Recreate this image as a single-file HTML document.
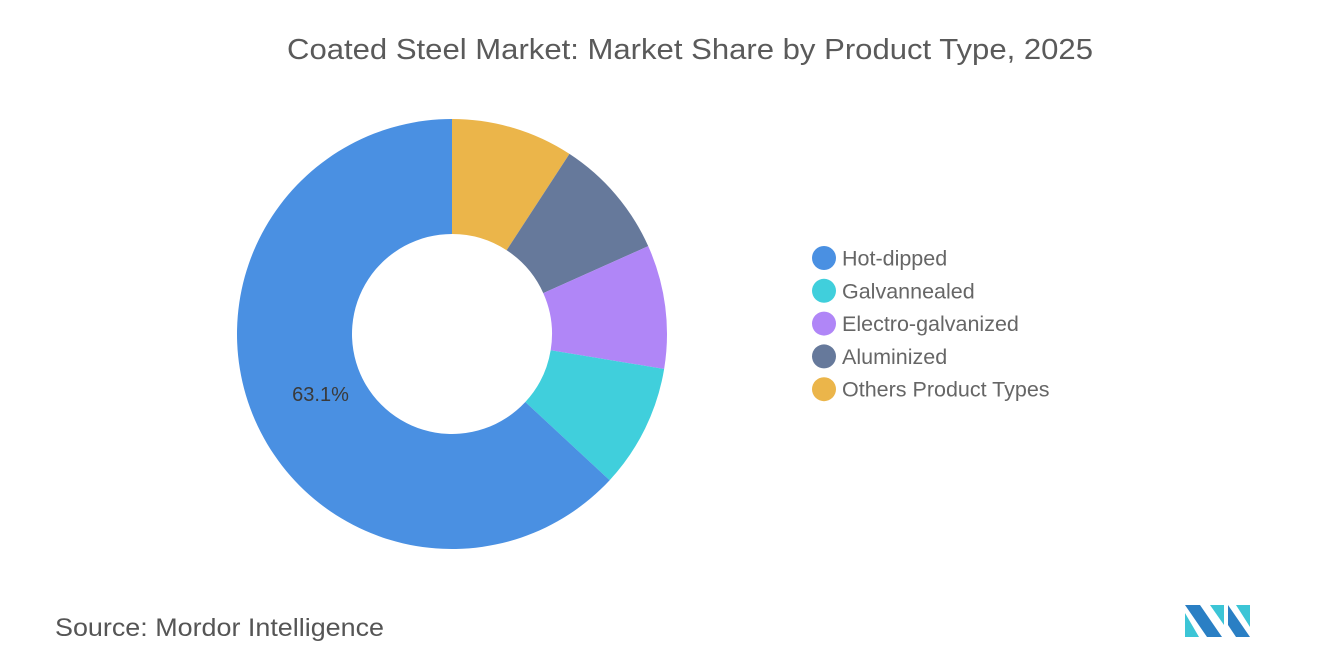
<!DOCTYPE html>
<html><head><meta charset="utf-8"><style>
body{margin:0;background:#fff;font-family:"Liberation Sans",sans-serif}
</style></head><body>
<svg width="1320" height="665" viewBox="0 0 1320 665">
<text x="287" y="59" font-size="29" fill="#5a5a5a" textLength="806" lengthAdjust="spacingAndGlyphs">Coated Steel Market: Market Share by Product Type, 2025</text>
<g id="donut"></g>
<g id="legend"></g>
<text x="55" y="636" font-size="25" fill="#555" textLength="329" lengthAdjust="spacingAndGlyphs">Source:  Mordor Intelligence</text>
<g>
<polygon points="1185,605 1200,605 1222,637 1207,637" fill="#2a7fc4"/>
<polygon points="1185,613 1199,637 1185,637" fill="#3cc5d6"/>
<polygon points="1210,605 1224,605 1224,625" fill="#3cc5d6"/>
<polygon points="1228,605 1250,637 1236,637 1228,625" fill="#2a7fc4"/>
<polygon points="1236,605 1250,605 1250,627" fill="#3cc5d6"/>
</g>
</svg>
<script>
const categories=["Hot-dipped","Galvannealed","Electro-galvanized","Aluminized","Others Product Types"];
const values=[63.1,9.3,9.3,9.1,9.2];
const colors=["#4a90e2","#40cfdc","#b086f7","#66799b","#ebb54a"];
const NS="http://www.w3.org/2000/svg";
const cx=452,cy=334,R=215,r=100;
const total=values.reduce((a,b)=>a+b,0);
const donut=document.getElementById('donut');
function pt(a,rad){return [cx+rad*Math.sin(a),cy-rad*Math.cos(a)];}
let a0=0;
for(let k=values.length-1;k>=0;k--){
  const sweep=values[k]/total*2*Math.PI;
  const a1=a0+sweep;
  const [x0,y0]=pt(a0,R),[x1,y1]=pt(a1,R),[x2,y2]=pt(a1,r),[x3,y3]=pt(a0,r);
  const lg=sweep>Math.PI?1:0;
  const p=document.createElementNS(NS,'path');
  p.setAttribute('d',`M${x0},${y0}A${R},${R} 0 ${lg} 1 ${x1},${y1}L${x2},${y2}A${r},${r} 0 ${lg} 0 ${x3},${y3}Z`);
  p.setAttribute('fill',colors[k]);
  
  
  donut.appendChild(p);
  if(values[k]>20){
    const [lx,ly]=pt((a0+a1)/2,150);
    const t=document.createElementNS(NS,'text');
    t.setAttribute('x',lx+6);t.setAttribute('y',ly+7);
    t.setAttribute('text-anchor','middle');t.setAttribute('font-size','20');t.setAttribute('fill','#3a3a3a');
    t.textContent=values[k].toFixed(1)+'%';
    
    
    donut.appendChild(t);
  }
  a0=a1;
}
const legend=document.getElementById('legend');
categories.forEach((c,i)=>{
  const y=258+i*32.8;
  const g=document.createElementNS(NS,'g');
  
  
  const ci=document.createElementNS(NS,'circle');
  ci.setAttribute('cx',824);ci.setAttribute('cy',y);ci.setAttribute('r',12);ci.setAttribute('fill',colors[i]);
  const t=document.createElementNS(NS,'text');
  t.setAttribute('x',842);t.setAttribute('y',y+7.5);t.setAttribute('font-size','21.5');t.setAttribute('fill','#666');
  t.textContent=c;
  g.appendChild(ci);g.appendChild(t);legend.appendChild(g);
});
</script>
</body></html>
